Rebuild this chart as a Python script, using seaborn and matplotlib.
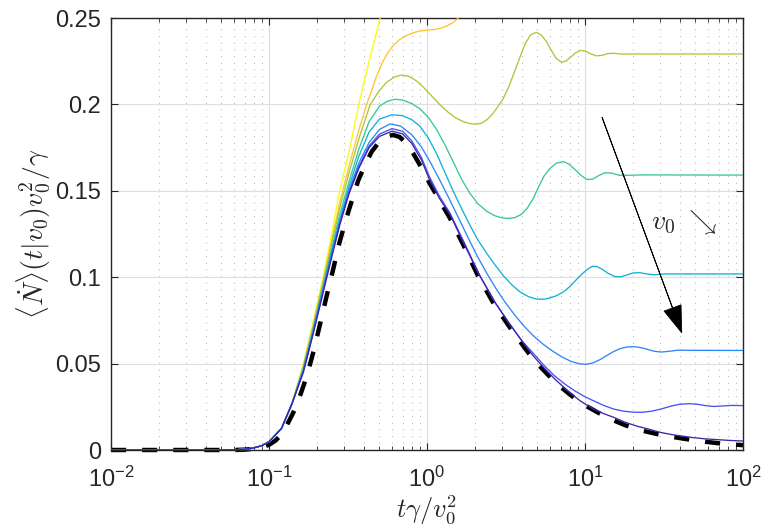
import numpy as np
import pandas as pd
import matplotlib
matplotlib.use('Agg')
import matplotlib.pyplot as plt
import matplotlib.ticker as mticker
import seaborn as sns

# shared early part of the coloured curves (all flat, then start rising)
t_pre = [0.01, 0.02, 0.03, 0.04, 0.05, 0.06, 0.07, 0.08, 0.09, 0.10, 0.12, 0.14]
y_pre = [0, 0, 0, 0, 0, 0.0001, 0.0004, 0.0012, 0.0025, 0.0048, 0.0125, 0.027]

t_yellow = [0.165, 0.19, 0.22, 0.25, 0.28, 0.32, 0.37, 0.43, 0.505, 0.56]
y_yellow = [0.050, 0.074, 0.100, 0.126, 0.150, 0.172, 0.200, 0.225, 0.250, 0.268]

t_orange = [0.165, 0.19, 0.22, 0.25, 0.28, 0.32, 0.37, 0.415, 0.45, 0.48, 0.53, 0.57, 0.61,
            0.67, 0.74, 0.82, 0.9, 1.0, 1.1, 1.21, 1.32, 1.45, 1.6, 1.75, 1.9]
y_orange = [0.049, 0.072, 0.098, 0.122, 0.143, 0.164, 0.185, 0.200, 0.209, 0.2165, 0.2255,
            0.2305, 0.234, 0.2375, 0.2398, 0.2415, 0.2425, 0.2430, 0.2433, 0.2440, 0.2452,
            0.2472, 0.2505, 0.2545, 0.2595]

t_olive = [0.165, 0.19, 0.22, 0.25, 0.28, 0.32, 0.37, 0.436, 0.49, 0.55, 0.62, 0.69, 0.77, 0.86,
           0.96, 1.08, 1.21, 1.36, 1.52, 1.7, 1.88, 2.05, 2.22, 2.4, 2.6, 2.8, 3.04, 3.3, 3.6,
           3.9, 4.2, 4.55, 4.94, 5.3, 5.72, 6.1, 6.55, 7.1, 7.6, 8.1, 8.7, 9.4, 10.1, 10.9,
           11.8, 12.8, 13.9, 15.2, 17, 20, 100]
y_olive = [0.048, 0.071, 0.097, 0.120, 0.140, 0.160, 0.180, 0.1997, 0.207, 0.2125, 0.2158,
           0.217, 0.2162, 0.2135, 0.2095, 0.2045, 0.1997, 0.1955, 0.1922, 0.190, 0.1888, 0.1886,
           0.1892, 0.1912, 0.1945, 0.1985, 0.2035, 0.2105, 0.2195, 0.228, 0.2355, 0.2405,
           0.2417, 0.240, 0.2362, 0.2315, 0.2268, 0.2244, 0.2252, 0.2273, 0.2298, 0.2313,
           0.2308, 0.2292, 0.2281, 0.2284, 0.2294, 0.2296, 0.2291, 0.2292, 0.2292]

t_teal = [0.165, 0.19, 0.22, 0.25, 0.28, 0.32, 0.37, 0.43, 0.5, 0.56, 0.627, 0.7, 0.8, 0.9, 1.02,
          1.15, 1.3, 1.47, 1.66, 1.87, 2.1, 2.4, 2.7, 3.0, 3.3, 3.6, 3.95, 4.3, 4.7, 5.1, 5.5,
          6.0, 6.6, 7.3, 7.9, 8.6, 9.4, 10.3, 11.2, 12.2, 13.4, 14.8, 16.5, 19, 23, 100]
y_teal = [0.047, 0.070, 0.095, 0.117, 0.136, 0.155, 0.174, 0.190, 0.199, 0.2018, 0.203, 0.2025,
          0.2005, 0.1975, 0.1925, 0.1855, 0.1765, 0.1665, 0.1565, 0.1485, 0.1425, 0.1380,
          0.1355, 0.1343, 0.1340, 0.1345, 0.1363, 0.1398, 0.1455, 0.1525, 0.1585, 0.1630,
          0.1660, 0.1669, 0.1655, 0.1625, 0.1590, 0.1565, 0.1568, 0.1588, 0.1605, 0.1602,
          0.1590, 0.1590, 0.1592, 0.1591]

t_cyan = [0.165, 0.19, 0.22, 0.25, 0.28, 0.32, 0.37, 0.43, 0.5, 0.6, 0.7, 0.8, 0.9, 1.02, 1.15,
          1.3, 1.47, 1.66, 1.87, 2.1, 2.4, 2.7, 3.05, 3.45, 3.9, 4.4, 4.9, 5.44, 6.0, 6.6, 7.3,
          8.0, 8.8, 9.6, 10.4, 11.1, 11.9, 12.9, 14.1, 15.4, 16.8, 18.4, 20.2, 22.2, 24.5,
          27.5, 32, 100]
y_cyan = [0.047, 0.069, 0.094, 0.115, 0.133, 0.152, 0.170, 0.184, 0.1915, 0.194, 0.1935, 0.1912,
          0.1875, 0.1805, 0.1715, 0.1605, 0.1495, 0.1395, 0.1300, 0.1215, 0.1135, 0.1070,
          0.1008, 0.0955, 0.0913, 0.0887, 0.0874, 0.0872, 0.0880, 0.0893, 0.0915, 0.0945,
          0.0985, 0.1020, 0.1047, 0.1063, 0.1062, 0.1045, 0.1021, 0.1004, 0.1002, 0.1013,
          0.1025, 0.1026, 0.1019, 0.1014, 0.1019, 0.1019]

t_blue = [0.165, 0.19, 0.22, 0.25, 0.28, 0.32, 0.37, 0.43, 0.5, 0.583, 0.68, 0.8, 0.92, 1.05,
          1.2, 1.38, 1.6, 1.85, 2.1, 2.4, 2.75, 3.15, 3.6, 4.1, 4.7, 5.4, 6.2, 7.1, 8.1, 9.2,
          10.2, 11.3, 12.5, 13.8, 15.2, 16.7, 18.4, 20.5, 22.7, 25, 27.5, 30.5, 34, 39, 45, 100]
y_blue = [0.046, 0.068, 0.093, 0.114, 0.132, 0.150, 0.166, 0.178, 0.1855, 0.1887, 0.1875,
          0.1825, 0.1755, 0.1665, 0.1565, 0.1455, 0.1335, 0.1215, 0.1115, 0.1020, 0.0930,
          0.0850, 0.0780, 0.0718, 0.0662, 0.0614, 0.0574, 0.0540, 0.0514, 0.0499, 0.0496,
          0.0505, 0.0524, 0.0548, 0.0570, 0.0587, 0.0596, 0.0598, 0.0592, 0.0582, 0.0571,
          0.0567, 0.0571, 0.0578, 0.0577, 0.0576]

t_violet = [0.165, 0.19, 0.22, 0.25, 0.28, 0.32, 0.37, 0.43, 0.5, 0.6, 0.7, 0.8, 0.92, 1.04,
            1.2, 1.4, 1.7, 2.17, 2.69, 3.3, 4.0, 4.7, 5.5, 6.4, 7.5, 8.7, 10, 11.5, 13.2, 15.2,
            17.5, 20, 23, 26.5, 30.5, 35, 40, 46, 52, 58, 65, 75, 85, 100]
y_violet = [0.0455, 0.0675, 0.092, 0.113, 0.131, 0.149, 0.164, 0.176, 0.1828, 0.186, 0.1845,
            0.179, 0.1695, 0.1578, 0.1468, 0.137, 0.121, 0.1005, 0.0855, 0.0735, 0.0630,
            0.0560, 0.0490, 0.0430, 0.0380, 0.0340, 0.0308, 0.0282, 0.0257, 0.0237, 0.0225,
            0.0219, 0.0218, 0.0225, 0.0238, 0.0254, 0.0265, 0.0268, 0.0264, 0.0257, 0.0252,
            0.0255, 0.0258, 0.0257]

t_indigo = [0.165, 0.19, 0.22, 0.25, 0.28, 0.32, 0.37, 0.43, 0.5, 0.6, 0.7, 0.8, 0.92, 1.04,
            1.2, 1.4, 1.7, 2.11, 2.69, 3.3, 4.0, 4.7, 5.5, 6.45, 7.7, 9.3, 11, 13, 15.1, 18,
            21.5, 25, 30, 35, 40, 48, 57, 66, 80, 100]
y_indigo = [0.045, 0.067, 0.091, 0.112, 0.130, 0.148, 0.163, 0.175, 0.1815, 0.1845, 0.183,
            0.1775, 0.168, 0.1562, 0.1455, 0.1362, 0.120, 0.1025, 0.0855, 0.0735, 0.0630,
            0.0545, 0.0475, 0.041, 0.0345, 0.0285, 0.0243, 0.0212, 0.0190, 0.0160, 0.0137,
            0.0122, 0.0102, 0.0090, 0.0082, 0.0072, 0.0065, 0.0061, 0.0056, 0.0052]

# limiting curve (black dashed)
t_limit = [0.01, 0.03, 0.05, 0.06, 0.07, 0.08, 0.09, 0.1, 0.11, 0.12, 0.13, 0.143, 0.158, 0.173,
           0.19, 0.21, 0.23, 0.25, 0.28, 0.318, 0.367, 0.41, 0.447, 0.5, 0.55, 0.61, 0.67, 0.74,
           0.82, 0.92, 1.04, 1.2, 1.4, 1.7, 2.11, 2.69, 3.52, 4.7, 6.45, 8, 9.5, 12, 14.4, 18,
           22.8, 29, 36.2, 46, 58.7, 75, 100]
y_limit = [0, 0, 0, 0, 0.0002, 0.0007, 0.0015, 0.003, 0.0055, 0.009, 0.0145, 0.022, 0.032,
           0.0424, 0.056, 0.0725, 0.088, 0.1015, 0.1205, 0.138, 0.156, 0.166, 0.1727, 0.1785,
           0.1815, 0.1823, 0.1812, 0.1775, 0.1715, 0.1635, 0.1543, 0.1445, 0.134, 0.1186,
           0.1005, 0.0835, 0.068, 0.0525, 0.0393, 0.0322, 0.027, 0.0218, 0.018, 0.0143, 0.0113,
           0.0091, 0.0075, 0.0060, 0.0047, 0.0036, 0.0028]

curves = {
    'yellow': (t_yellow, y_yellow, '#f9fb15'),
    'orange': (t_orange, y_orange, '#fec338'),
    'olive': (t_olive, y_olive, '#abc739'),
    'teal': (t_teal, y_teal, '#37c897'),
    'cyan': (t_cyan, y_cyan, '#11b1d6'),
    'blue': (t_blue, y_blue, '#2e87f7'),
    'violet': (t_violet, y_violet, '#4852f4'),
    'indigo': (t_indigo, y_indigo, '#3e26a8'),
}

frames = []
for name, (tt, yy, _) in curves.items():
    frames.append(pd.DataFrame({'t': t_pre + tt, 'y': y_pre + yy, 'curve': name}))
df = pd.concat(frames, ignore_index=True)
palette = {name: c for name, (_, _, c) in curves.items()}

sns.set_style('ticks')
plt.rcParams['font.family'] = ['Liberation Sans', 'DejaVu Sans']
plt.rcParams['mathtext.fontset'] = 'cm'

fig = plt.figure(figsize=(7.63, 5.27), dpi=100)
ax = fig.add_axes([0.1455, 0.1461, 0.8283, 0.8197])

sns.lineplot(x=t_limit, y=y_limit, color='k', lw=3.2, linestyle=(0, (3.4, 3.6)),
             estimator=None, sort=False, ax=ax, zorder=2)
ax.lines[-1].set_clip_on(False)
sns.lineplot(data=df, x='t', y='y', hue='curve', hue_order=list(curves), palette=palette,
             estimator=None, sort=False, lw=0.95, legend=False, ax=ax, zorder=3)

ax.set_xscale('log')
ax.set_xlim(1e-2, 1e2)
ax.set_ylim(0, 0.25)
ax.set_yticks([0, 0.05, 0.1, 0.15, 0.2, 0.25])
ax.yaxis.set_major_formatter(mticker.FormatStrFormatter('%g'))
ax.yaxis.set_minor_locator(mticker.NullLocator())

ax.set_axisbelow(True)
ax.grid(which='major', color='#dedede', lw=0.8)
ax.xaxis.grid(which='minor', color='#bdbdbd', lw=0.8, ls=(0, (1, 5)))

for s in ax.spines.values():
    s.set_color('#262626')
    s.set_linewidth(1.0)
ax.tick_params(which='both', direction='in', top=True, right=True, colors='#262626',
               labelsize=17, labelcolor='#262626')
ax.tick_params(which='major', length=5)
ax.tick_params(which='minor', length=3)
ax.tick_params(axis='x', pad=12)
ax.tick_params(axis='y', pad=7)

ax.set_xlabel(r'$t\gamma/v_0^2$', fontsize=19, labelpad=1)
ax.set_ylabel(r'$\langle\dot{N}\rangle(t|v_0)v_0^2/\gamma$', fontsize=20, labelpad=2)

ax.annotate('', xy=(0.903, 0.2715), xytext=(0.777, 0.770), xycoords='axes fraction',
            arrowprops=dict(facecolor='k', edgecolor='k', width=0.2, headwidth=13,
                            headlength=19, shrink=0, lw=0.6))
ax.text(0.907, 0.527, r'$v_0\ \searrow$', transform=ax.transAxes, fontsize=20,
        ha='center', va='center')

fig.savefig('out.png', dpi=100)
